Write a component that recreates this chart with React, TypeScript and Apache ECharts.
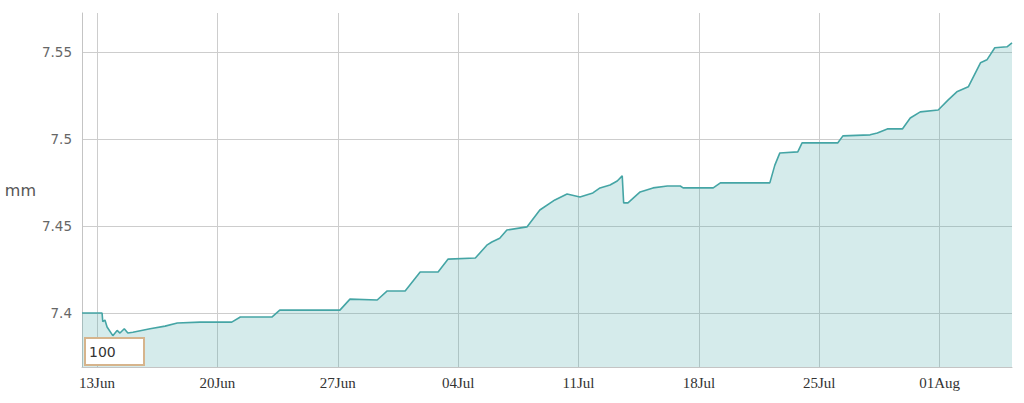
import React, { useEffect, useRef } from "react";
import * as echarts from "echarts";

const times = [
  "2016-06-12 03:00", "2016-06-13 07:00", "2016-06-13 08:00", "2016-06-13 11:00", "2016-06-13 14:00",
  "2016-06-13 22:00", "2016-06-14 04:00", "2016-06-14 08:00", "2016-06-14 14:00", "2016-06-14 19:00",
  "2016-06-15 02:00", "2016-06-16 02:00", "2016-06-16 23:00", "2016-06-17 16:00", "2016-06-19 00:00",
  "2016-06-20 20:00", "2016-06-21 08:00", "2016-06-23 04:00", "2016-06-23 15:00", "2016-06-27 03:00",
  "2016-06-27 17:00", "2016-06-29 07:00", "2016-06-29 21:00", "2016-06-30 22:00", "2016-07-01 19:00",
  "2016-07-02 20:00", "2016-07-03 10:00", "2016-07-05 00:00", "2016-07-05 16:00", "2016-07-05 23:00",
  "2016-07-06 10:00", "2016-07-06 20:00", "2016-07-08 00:00", "2016-07-08 18:00", "2016-07-09 15:00",
  "2016-07-10 08:00", "2016-07-11 02:00", "2016-07-11 20:00", "2016-07-12 06:00", "2016-07-12 20:00",
  "2016-07-13 06:00", "2016-07-13 13:00", "2016-07-13 15:00", "2016-07-13 21:00", "2016-07-14 14:00",
  "2016-07-15 08:00", "2016-07-16 04:00", "2016-07-16 22:00", "2016-07-17 02:00", "2016-07-18 20:00",
  "2016-07-19 06:00", "2016-07-22 03:00", "2016-07-22 10:00", "2016-07-22 17:00", "2016-07-23 18:00",
  "2016-07-24 00:00", "2016-07-26 02:00", "2016-07-26 09:00", "2016-07-27 23:00", "2016-07-28 09:00",
  "2016-07-28 23:00", "2016-07-29 20:00", "2016-07-30 07:00", "2016-07-30 21:00", "2016-07-31 22:00",
  "2016-08-01 12:00", "2016-08-02 00:00", "2016-08-02 16:00", "2016-08-03 09:00", "2016-08-03 18:00",
  "2016-08-04 05:00", "2016-08-04 22:00", "2016-08-05 05:00",
];

const values = [
  7.4, 7.4, 7.395, 7.396, 7.392,
  7.387, 7.39, 7.3885, 7.391, 7.3885,
  7.389, 7.391, 7.3925, 7.3943, 7.3948,
  7.3948, 7.3977, 7.3977, 7.4017, 7.4017,
  7.408, 7.4075, 7.4127, 7.4127, 7.4236,
  7.4236, 7.431, 7.4316, 7.439, 7.4408,
  7.443, 7.4477, 7.4495, 7.4592, 7.465,
  7.4684, 7.4667, 7.469, 7.4719, 7.4736,
  7.4759, 7.4788, 7.4633, 7.4633, 7.4696,
  7.4719, 7.473, 7.473, 7.4719, 7.4719,
  7.4748, 7.4748, 7.485, 7.492, 7.4926,
  7.4978, 7.4978, 7.5018, 7.5024, 7.5035,
  7.5058, 7.5058, 7.5121, 7.5156, 7.5167,
  7.5225, 7.5271, 7.53, 7.5438, 7.5455,
  7.5524, 7.553, 7.5553,
];

const xRange = ["2016-06-12 03:00", "2016-08-05 05:00"];
const tickDates = [
  "2016-06-13 00:00", "2016-06-20 00:00", "2016-06-27 00:00", "2016-07-04 00:00",
  "2016-07-11 00:00", "2016-07-18 00:00", "2016-07-25 00:00", "2016-08-01 00:00",
];
const tickLabels = ["13Jun", "20Jun", "27Jun", "04Jul", "11Jul", "18Jul", "25Jul", "01Aug"];

const yTicks = [7.4, 7.45, 7.5, 7.55];
const yRange = [7.369, 7.5724];
const boxText = "100";

const ts = (s: string) => new Date(s.replace(" ", "T")).getTime();

export default function App() {
  const ref = useRef<HTMLDivElement>(null);
  useEffect(() => {
    if (!ref.current) return;
    const chart = echarts.init(ref.current, undefined, { renderer: "svg" });
    const tickTs = tickDates.map(ts);
    const data = times.map((t, i) => [ts(t), values[i]]);
    chart.setOption({
      animation: false,
      grid: { left: 82, right: 12, top: 13, bottom: 36 },
      xAxis: {
        type: "value",
        min: ts(xRange[0]),
        max: ts(xRange[1]),
        axisLine: { show: true, lineStyle: { color: "#c4c4c4", width: 1 } },
        axisTick: { show: false, customValues: tickTs },
        splitLine: { show: true, lineStyle: { color: "#cdcdcd", width: 1 } },
        axisLabel: {
          customValues: tickTs,
          showMinLabel: true,
          showMaxLabel: true,
          formatter: (v: number) => {
            const idx = tickTs.findIndex((t) => Math.abs(t - v) < 1000);
            return idx >= 0 ? tickLabels[idx] : "";
          },
          fontFamily: "Liberation Serif",
          fontSize: 15,
          color: "#333",
          margin: 8,
        },
      },
      yAxis: {
        type: "value",
        min: yRange[0],
        max: yRange[1],
        name: "mm",
        nameLocation: "middle",
        nameRotate: 0,
        nameGap: 45,
        nameTextStyle: { fontFamily: "DejaVu Sans", fontSize: 16, color: "#555" },
        axisLine: { show: true, lineStyle: { color: "#c4c4c4", width: 1 } },
        axisTick: { show: false, customValues: yTicks },
        splitLine: { show: true, lineStyle: { color: "#cdcdcd", width: 1 } },
        axisLabel: {
          customValues: yTicks,
          fontFamily: "DejaVu Sans",
          fontSize: 13.5,
          color: "#666",
          margin: 10,
        },
      },
      series: [
        {
          type: "line",
          data,
          showSymbol: false,
          symbol: "none",
          lineStyle: { color: "#45a5a5", width: 1.6 },
          areaStyle: { color: "rgba(74,167,167,0.23)", opacity: 1, origin: "start" },
        },
      ],
      graphic: [
        {
          type: "rect",
          shape: { x: 85, y: 338, width: 59, height: 27 },
          style: { fill: "#ffffff", stroke: "#d6b48c", lineWidth: 2 },
          z: 100,
        },
        {
          type: "text",
          x: 89,
          y: 352,
          style: {
            text: boxText,
            fontFamily: "DejaVu Sans",
            fontSize: 14,
            fill: "#333",
            verticalAlign: "middle",
          },
          z: 101,
        },
      ],
    });
    return () => chart.dispose();
  }, []);
  return (
    <div
      ref={ref}
      style={{ position: "absolute", left: 0, top: 0, width: 1024, height: 403 }}
    />
  );
}
